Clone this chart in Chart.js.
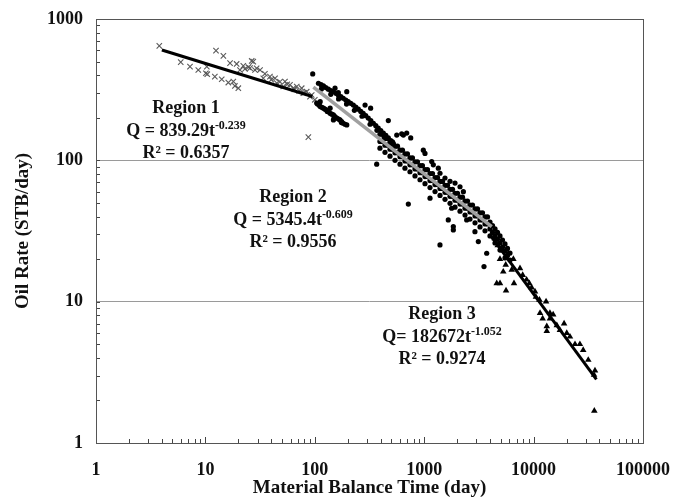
<!DOCTYPE html>
<html lang="en">
<head>
<meta charset="UTF-8">
<script src="https://cdn.jsdelivr.net/npm/chart.js"></script>
<title>Oil Rate vs Material Balance Time</title>
<style>
  html, body { margin: 0; padding: 0; background: #fff; }
  #wrap { width: 685px; height: 502px; }
</style>
</head>
<body>
<div id="wrap"><canvas id="rateChart"></canvas></div>
<script>
// axis decades (tick labels)
const xTicks = [1, 10, 100, 1000, 10000, 100000];
const yTicks = [1, 10, 100, 1000];

// Region 1 - crosses
const r1Time = [3.79, 5.95, 7.23, 8.61, 10.1, 10.3, 12.5, 14.6, 16.8, 19.3, 22.2, 24.7, 27.4, 29.4,
  10.4, 12.2, 14.1, 16.2, 18.6, 20.0, 18.0,
  26.5, 20.7, 23.0, 25.6, 28.4, 31.6, 33.8, 35, 38.9, 40, 43.3, 44.9, 48, 51.5, 53.4, 56, 59.3,
  63.7, 65, 68.4, 72, 75.9, 78.5, 80, 84.3, 87.3, 90.4, 93.7, 100];
const r1Rate = [645, 495, 460, 436, 413, 460, 597, 548, 487, 481, 466, 456, 499, 448,
  407, 391, 375, 355, 336, 324, 361,
  505, 436, 443, 449, 436, 436, 381, 410, 391, 372, 381, 352, 360, 333, 361, 345, 342,
  324, 318, 333, 310, 324, 299, 300, 306, 146, 282, 290, 268];

// Region 2 - dots, read in pieces
const r2UpperTime = [95.7, 108, 114, 120, 126, 133, 140, 148, 156, 164, 173, 182, 192, 202, 213,
  225, 237, 250, 263, 277, 292, 308, 325, 343, 361, 380, 401, 423, 446, 470, 495, 522,
  115, 140, 165, 195, 230, 270, 320, 370, 430, 500];
const r2UpperRate = [409, 351, 343, 336, 327, 319, 312, 306, 298, 290, 282, 275, 267, 260, 253,
  246, 238, 230, 222, 215, 207, 199, 191, 183, 176, 169, 162, 156, 150, 144, 138, 132,
  320, 293, 272, 250, 226, 205, 180, 163, 146, 130];

const r2LowerTime = [104, 106, 110, 112, 116, 120, 124, 128, 130, 133, 138, 143, 148, 150, 153,
  159, 165, 170, 175, 176, 182, 189, 196, 148, 138, 112];
const r2LowerRate = [254, 250, 245, 240, 237, 234, 230, 227, 222, 221, 215, 212, 210, 200, 204,
  199, 196, 193, 185, 188, 183, 180, 178, 193, 234, 260];

const r2SpreadTime = [153, 164, 196, 288, 324, 470, 561, 623, 692, 645, 753, 982, 1017, 1171, 1212,
  1346, 1394, 1549, 1722, 1913, 2125, 2280,
  368, 716, 1394, 1846, 1130, 1782, 1846, 1660, 2445, 2910, 3125, 3727, 3520];
const r2SpreadRate = [324, 301, 306, 246, 234, 191, 151, 154, 156, 151, 144, 118, 112, 98, 93,
  88, 81, 75, 71, 69, 65, 60,
  94, 49, 25.2, 32.2, 54, 45.8, 34, 37.9, 37.9, 31.3, 26.6, 22, 17.7];

const r2BandTime = [394, 394, 394, 438, 438, 438, 487, 487, 487, 541, 541, 541, 601, 601, 601,
  667, 667, 667, 741, 741, 741, 824, 824, 824, 915, 915, 915, 1017, 1017, 1017,
  1130, 1130, 1130, 1256, 1256, 1256, 1395, 1395, 1395, 1550, 1550, 1550, 1722, 1722, 1722,
  1913, 1913, 1913, 2125, 2125, 2125, 2361, 2361, 2361, 2623, 2623, 2623, 2914, 2914, 2914,
  3237, 3237, 3237, 3596, 3596, 3596, 3995, 3995, 3995, 4438, 4438, 4438, 4930, 4930, 4930,
  5477, 5477, 5477, 6085, 6085];
const r2BandRate = [153, 136, 122, 143, 128, 114, 135, 120, 107, 126, 113, 100, 118, 106, 94,
  111, 99, 88, 104, 93, 83, 97.6, 87, 77.6, 91.6, 81.7, 72.9, 85.9, 76.7, 68.4,
  80.7, 71.9, 64.2, 75.5, 67.4, 60.1, 70.9, 63.2, 56.5, 66.5, 59.4, 53.0, 62.4, 55.6, 49.6,
  58.5, 52.2, 46.6, 54.9, 49.0, 43.7, 51.5, 45.9, 41.0, 48.3, 43.1, 38.4, 45.3, 40.4, 36.1,
  42.5, 37.9, 33.8, 39.8, 35.5, 31.7, 36.6, 32.7, 29.2, 32.7, 29.2, 26.0, 29.2, 26.0, 23.2,
  25.6, 22.8, 20.4, 22.1, 19.7];

const r2BandMidTime = [415, 415, 462, 462, 513, 513, 570, 570, 633, 633, 703, 703, 781, 781,
  868, 868, 964, 964, 1072, 1072, 1191, 1191, 1324, 1324, 1470, 1470, 1634, 1634, 1815, 1815,
  2016, 2016, 2240, 2240, 2488, 2488, 2765, 2765, 3071, 3071, 3412, 3412, 3790, 3790,
  4211, 4211, 4678, 4678, 5196, 5196, 5773, 5773];
const r2BandMidRate = [153, 136, 143, 128, 135, 120, 126, 113, 118, 106, 111, 99, 104, 93,
  97.6, 87, 91.6, 81.7, 85.9, 76.7, 80.7, 71.9, 75.5, 67.4, 70.9, 63.2, 66.5, 59.4, 62.4, 55.6,
  58.5, 52.2, 54.9, 49.0, 51.5, 45.9, 48.3, 43.1, 45.3, 40.4, 42.5, 37.9, 39.8, 35.5,
  34.6, 30.9, 30.9, 27.6, 27.3, 24.3, 23.8, 21.2];

// Region 3 - triangles
const r3Time = [4400, 4700, 5200, 4930, 4603, 4930, 5598, 6620, 6530, 6310, 7510, 7950, 9140, 10300,
  11300, 13000, 11450, 12100, 13200, 13200, 14100, 15100, 16300, 19000, 20100, 23900, 26500,
  36400, 35700, 35900, 5560, 8630, 9600, 10500, 14100, 17400, 21500, 28400, 31600, 5280, 5870];
const r3Rate = [28, 25, 23, 20, 13.5, 13.5, 12.0, 13.5, 20, 16.8, 17.2, 15.4, 13.5, 11.8,
  10.3, 10, 8.3, 7.6, 6.7, 6.2, 8.3, 8.1, 6.8, 7.0, 6.0, 5.0, 5.0,
  3.25, 3.03, 1.69, 18.2, 14.3, 12.6, 10.8, 7.6, 6.3, 5.65, 4.55, 3.87, 16.3, 22];

// power-law fit end points
const fit1Time = [4, 95];
const fit1Rate = [603, 283];
const fit2Time = [97, 4140];
const fit2Rate = [330, 34];
const fit3Time = [4000, 37500];
const fit3Rate = [29.7, 2.82];

// annotation text
const notes = [
  { x: 186, y: 113, lines: [['Region 1', ''], ['Q = 839.29t', '-0.239'], ['R\u00B2 = 0.6357', '']] },
  { x: 293, y: 202, lines: [['Region 2', ''], ['Q = 5345.4t', '-0.609'], ['R\u00B2 = 0.9556', '']] },
  { x: 442, y: 319, lines: [['Region 3', ''], ['Q= 182672t', '-1.052'], ['R\u00B2 = 0.9274', '']] }
];

function pts(xs, ys) {
  return xs.map((x, i) => ({ x: x, y: ys[i] }));
}

function logTicks(majors) {
  const out = [];
  majors.forEach((m, i) => {
    if (i === majors.length - 1) { out.push(m); return; }
    for (let k = 1; k < 10; k++) out.push(m * k);
  });
  return out;
}

const serif = 'Liberation Serif, Times New Roman, serif';

const r2Time = r2UpperTime.concat(r2LowerTime, r2SpreadTime, r2BandTime, r2BandMidTime);
const r2Rate = r2UpperRate.concat(r2LowerRate, r2SpreadRate, r2BandRate, r2BandMidRate);

// ticks inside the frame + the frame + region labels
const frame = {
  id: 'frame',
  afterDraw(chart) {
    const ctx = chart.ctx;
    const a = chart.chartArea;
    const xs = chart.scales.x, ys = chart.scales.y;
    ctx.save();
    ctx.strokeStyle = '#444';
    ctx.lineWidth = 1;
    ctx.beginPath();
    logTicks(xTicks).forEach(v => {
      const px = Math.round(xs.getPixelForValue(v)) + 0.5;
      const len = xTicks.includes(v) ? 6 : 4;
      ctx.moveTo(px, a.bottom);
      ctx.lineTo(px, a.bottom - len);
    });
    logTicks(yTicks).forEach(v => {
      const py = Math.round(ys.getPixelForValue(v)) + 0.5;
      ctx.moveTo(a.left, py);
      ctx.lineTo(a.left + 4, py);
    });
    ctx.stroke();
    ctx.strokeStyle = '#555';
    ctx.strokeRect(Math.round(a.left) + 0.5, Math.round(a.top) + 0.5,
      Math.round(a.right - a.left), Math.round(a.bottom - a.top));

    ctx.fillStyle = '#111';
    ctx.textBaseline = 'alphabetic';
    ctx.textAlign = 'left';
    notes.forEach(n => {
      n.lines.forEach((ln, i) => {
        ctx.font = 'bold 18px ' + serif;
        const w1 = ctx.measureText(ln[0]).width;
        ctx.font = 'bold 12px ' + serif;
        const w2 = ln[1] ? ctx.measureText(ln[1]).width : 0;
        const x0 = n.x - (w1 + w2) / 2;
        const y0 = n.y + i * 22.5;
        ctx.font = 'bold 18px ' + serif;
        ctx.fillText(ln[0], x0, y0);
        if (ln[1]) {
          ctx.font = 'bold 12px ' + serif;
          ctx.fillText(ln[1], x0 + w1, y0 - 7);
        }
      });
    });
    ctx.restore();
  }
};

const ctx = document.getElementById('rateChart').getContext('2d');
const rateChart = new Chart(ctx, {
  type: 'scatter',
  data: {
    datasets: [
      {
        label: 'Region 1 fit',
        type: 'line',
        data: pts(fit1Time, fit1Rate),
        borderColor: '#000',
        borderWidth: 3,
        pointRadius: 0,
        showLine: true,
        order: 0
      },
      {
        label: 'Region 2 fit',
        type: 'line',
        data: pts(fit2Time, fit2Rate),
        borderColor: '#a0a0a0',
        borderWidth: 3.5,
        pointRadius: 0,
        showLine: true,
        order: 0
      },
      {
        label: 'Region 3 fit',
        type: 'line',
        data: pts(fit3Time, fit3Rate),
        borderColor: '#000',
        borderWidth: 3,
        pointRadius: 0,
        showLine: true,
        order: 0
      },
      {
        label: 'Region 1',
        data: pts(r1Time, r1Rate),
        pointStyle: 'crossRot',
        pointRadius: 3.8,
        borderColor: '#5a5a5a',
        borderWidth: 1.1,
        order: 3
      },
      {
        label: 'Region 2',
        data: pts(r2Time, r2Rate),
        pointStyle: 'circle',
        pointRadius: 2.6,
        backgroundColor: '#000',
        borderColor: '#000',
        borderWidth: 0,
        order: 2
      },
      {
        label: 'Region 3',
        data: pts(r3Time, r3Rate),
        pointStyle: 'triangle',
        pointRadius: 3.8,
        backgroundColor: '#000',
        borderColor: '#000',
        borderWidth: 0,
        order: 1
      }
    ]
  },
  options: {
    responsive: true,
    maintainAspectRatio: false,
    animation: false,
    events: [],
    layout: { padding: { left: 0, top: 19, right: 42, bottom: 0 } },
    plugins: {
      legend: { display: false },
      tooltip: { enabled: false }
    },
    scales: {
      x: {
        type: 'logarithmic',
        position: 'bottom',
        min: 1,
        max: 100000,
        afterBuildTicks: s => { s.ticks = logTicks(xTicks).map(v => ({ value: v })); },
        afterFit: s => { s.height = 59; },
        grid: { display: false },
        border: { display: false },
        ticks: {
          autoSkip: false,
          maxRotation: 0,
          padding: 9,
          color: '#111',
          font: { family: serif, size: 18, weight: 'bold' },
          callback: v => xTicks.includes(v) ? String(v) : ''
        },
        title: {
          display: true,
          text: 'Material Balance Time (day)',
          color: '#111',
          font: { family: serif, size: 19, weight: 'bold' },
          padding: { top: 0, bottom: 3 }
        }
      },
      y: {
        type: 'logarithmic',
        min: 1,
        max: 1000,
        afterBuildTicks: s => { s.ticks = logTicks(yTicks).map(v => ({ value: v })); },
        afterFit: s => { s.width = 96; },
        grid: {
          drawTicks: true,
          tickLength: 11,
          tickColor: 'rgba(0,0,0,0)',
          color: c => (c.tick && (c.tick.value === 10 || c.tick.value === 100)) ? '#9a9a9a' : 'rgba(0,0,0,0)'
        },
        border: { display: false },
        ticks: {
          autoSkip: false,
          padding: 2,
          color: '#111',
          font: { family: serif, size: 18, weight: 'bold' },
          callback: v => yTicks.includes(v) ? String(v) : ''
        },
        title: {
          display: true,
          text: 'Oil Rate (STB/day)',
          color: '#111',
          font: { family: serif, size: 19, weight: 'bold' },
          padding: { top: 12, bottom: 0 }
        }
      }
    }
  },
  plugins: [frame]
});
</script>
</body>
</html>
